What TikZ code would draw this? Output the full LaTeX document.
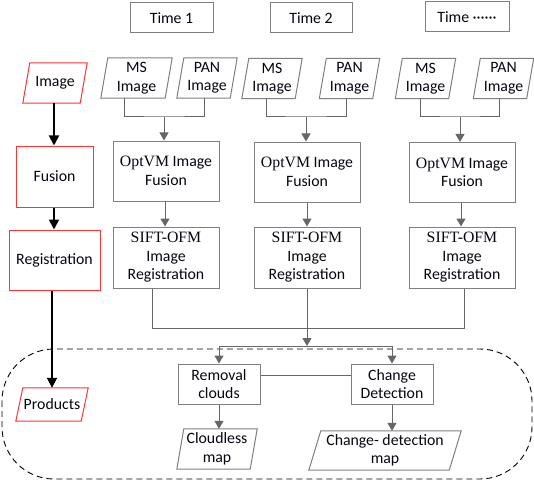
\documentclass[tikz,border=0pt]{standalone}
\usepackage{fontspec}
\setmainfont{Carlito}
\newfontfamily\srf{Liberation Serif}
\usetikzlibrary{arrows.meta,calc}
\definecolor{boxgray}{HTML}{7F7F7F}
\definecolor{linegray}{HTML}{666666}
\definecolor{redb}{HTML}{FF3333}
\definecolor{txt}{HTML}{05050F}
\tikzset{
  lbl/.style={inner sep=0pt, align=center, text=txt, font=\fontsize{15.8}{18.5}\selectfont},
  gbox/.style={lbl, draw=boxgray, line width=1pt},
  rbox/.style={lbl, draw=redb, line width=1pt},
  gline/.style={draw=linegray, line width=1pt},
  garrow/.style={gline, -{Triangle[length=8pt,width=9pt]}},
  barrow/.style={draw=black, line width=1.8pt, -{Triangle[length=10pt,width=10pt]}},
}
% parallelogram: name, x, y, w, h, slant, colour, text
\newcommand{\paranode}[8]{%
  \node[lbl, minimum width=#4pt, minimum height=#5pt] (#1) at (#2,#3) {#8};
  \draw[draw=#7, line width=1pt] ($(#1.north west)+(#6,0)$) -- (#1.north east)
     -- ($(#1.south east)-(#6,0)$) -- (#1.south west) -- cycle;}
\begin{document}
\begin{tikzpicture}[x=1pt,y=-1pt]
\useasboundingbox (0,0) rectangle (534,481);

% time headers
\node[gbox, minimum width=83pt, minimum height=30pt] (t1) at (171.5,18) {Time 1};
\node[gbox, minimum width=82pt, minimum height=30pt] (t2) at (311,18) {Time 2};
\node[gbox, minimum width=84pt, minimum height=30pt] (t3) at (467,17) {Time ······};

% left red column
\paranode{img}{55}{83}{64}{40}{7}{redb}{Image}
\node[rbox, minimum width=77pt, minimum height=61pt] (fus) at (54.5,176.5) {Fusion};
\node[rbox, minimum width=91pt, minimum height=60pt] (reg) at (54.5,260) {Registration};
\paranode{prod}{52}{404.5}{72}{33}{7}{redb}{Products}

% inputs
\paranode{ms1}{136.5}{78}{71}{40}{7}{boxgray}{MS\\Image}
\paranode{pan1}{207}{78}{60}{40}{7}{boxgray}{PAN\\Image}
\paranode{ms2}{272}{78.5}{60}{40}{7}{boxgray}{MS\\Image}
\paranode{pan2}{349.5}{78.5}{60}{40}{7}{boxgray}{PAN\\Image}
\paranode{ms3}{425.5}{78.5}{60}{40}{7}{boxgray}{MS\\Image}
\paranode{pan3}{503.5}{78.5}{60}{40}{7}{boxgray}{PAN\\Image}

% fusion boxes
\node[gbox, minimum width=106pt, minimum height=60pt] (opt1) at (166,171) {{\srf OptVM} Image\\Fusion};
\node[gbox, minimum width=106pt, minimum height=60pt] (opt2) at (307,172) {{\srf OptVM} Image\\Fusion};
\node[gbox, minimum width=106pt, minimum height=60pt] (opt3) at (462,172.5) {{\srf OptVM} Image\\Fusion};

% registration boxes
\node[gbox, minimum width=106pt, minimum height=61pt] (sift1) at (166,257.5) {{\srf SIFT-OFM}\\Image\\Registration};
\node[gbox, minimum width=106pt, minimum height=61pt] (sift2) at (307,257.5) {{\srf SIFT-OFM}\\Image\\Registration};
\node[gbox, minimum width=106pt, minimum height=61pt] (sift3) at (462,257.5) {{\srf SIFT-OFM}\\Image\\Registration};

% products
\node[gbox, minimum width=82pt, minimum height=40pt] (rem) at (219,384) {Removal\\clouds};
\node[gbox, minimum width=82pt, minimum height=40pt] (chg) at (392,384) {Change\\Detection};
\paranode{cmap}{217}{449}{80}{40}{7}{boxgray}{Cloudless\\map}
\paranode{dmap}{385}{450.5}{152}{39}{12}{boxgray}{Change- detection\\map}

% dashed region
\draw[draw=black, line width=0.9pt, dash pattern=on 6pt off 4pt, rounded corners=52pt]
  (2,349) rectangle (532,479);

% left black arrows
\draw[barrow] (img.south -| 54,0) -- (fus.north -| 54,0);
\draw[barrow] (fus.south -| 54,0) -- (reg.north -| 54,0);
\draw[barrow] (reg.south -| 52,0) -- (prod.north -| 52,0);

% input merges
\coordinate (j1) at (164,117);
\coordinate (j2) at (306,117);
\coordinate (j3) at (460,117);
\draw[gline] (ms1.south -| 124,0) |- (j1) -| (pan1.south -| 204,0);
\draw[garrow] (j1) -- (opt1.north -| j1);
\draw[gline] (ms2.south -| 266,0) |- (j2) -| (pan2.south -| 346,0);
\draw[garrow] (j2) -- (opt2.north -| j2);
\draw[gline] (ms3.south -| 420,0) |- (j3) -| (pan3.south -| 499,0);
\draw[garrow] (j3) -- (opt3.north -| j3);

% fusion -> registration
\draw[garrow] (opt1.south -| 165,0) -- (sift1.north -| 165,0);
\draw[garrow] (opt2.south -| 307,0) -- (sift2.north -| 307,0);
\draw[garrow] (opt3.south -| 461,0) -- (sift3.north -| 461,0);

% registration -> products
\coordinate (s) at (307,346);
\draw[gline] (sift1.south -| 152,0) -- (152,328) -| (sift3.south -| 464,0);
\draw[garrow] (sift2.south -| s) -- (s);
\draw[gline] (s -| rem.north) -- (s -| chg.north);
\draw[garrow] (s -| rem.north) -- (rem.north);
\draw[garrow] (s -| chg.north) -- (chg.north);
\draw[gline] (rem.east |- 0,375) -- (chg.west |- 0,375);
\draw[garrow] (rem.south) -- (cmap.north -| rem.south);
\draw[garrow] (chg.south) -- (dmap.north -| chg.south);
\end{tikzpicture}
\end{document}
